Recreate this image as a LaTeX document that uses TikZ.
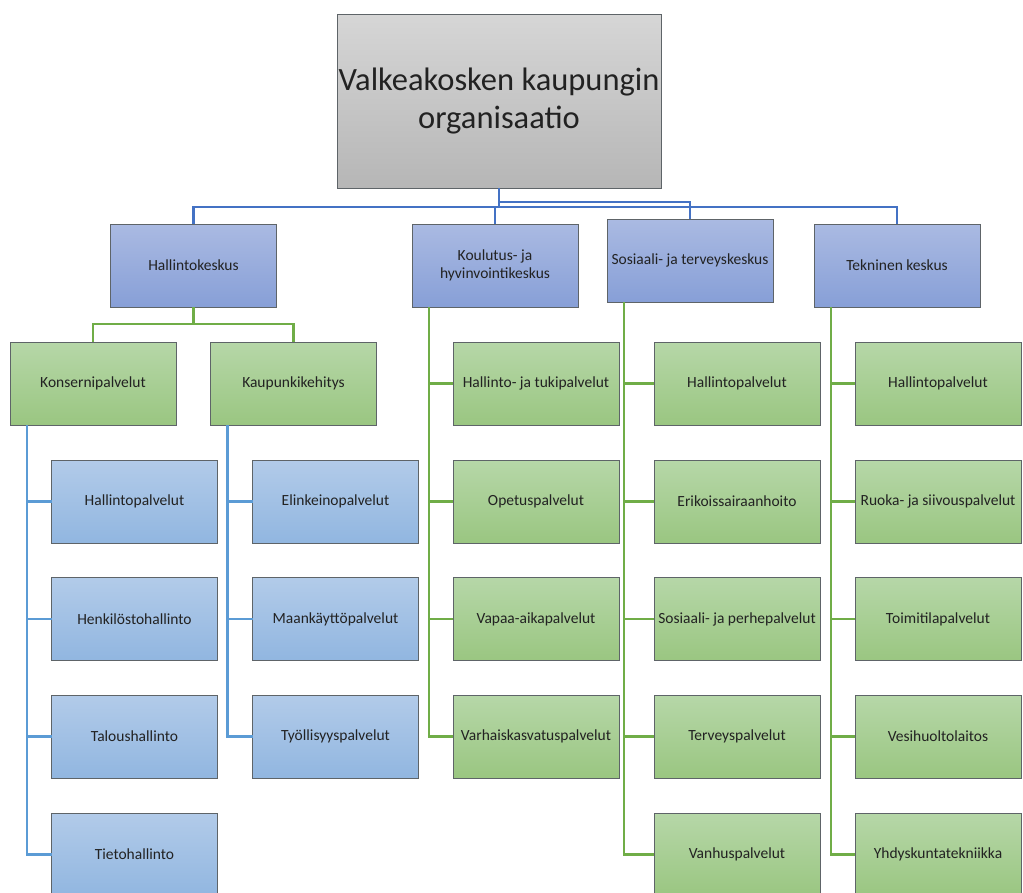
\documentclass[tikz,border=0pt]{standalone}
\usepackage{fontspec}
\setmainfont{Carlito}

\definecolor{headtop}{HTML}{D6D6D6}
\definecolor{headbot}{HTML}{B6B6B6}
\definecolor{depttop}{HTML}{AABAE2}
\definecolor{deptbot}{HTML}{879FD7}
\definecolor{greentop}{HTML}{B6D7A8}
\definecolor{greenbot}{HTML}{9AC681}
\definecolor{subtop}{HTML}{B2CBE9}
\definecolor{subbot}{HTML}{91B6E0}
\definecolor{boxline}{HTML}{5E6468}
\definecolor{textgray}{HTML}{222222}
\definecolor{linkblue}{HTML}{4472C4}
\definecolor{linkgreen}{HTML}{70AD47}
\definecolor{linksub}{HTML}{5B9BD5}

\begin{document}
\begin{tikzpicture}[x=1pt,y=-1pt,
  box/.style={draw=boxline,line width=0.7pt,minimum width=166pt,minimum height=83pt,
    inner sep=1pt,outer sep=0pt,align=center,text=textgray,font=\fontsize{15.5}{18}\selectfont},
  headbox/.style={box,top color=headtop,bottom color=headbot,minimum width=324pt,
    minimum height=174pt,inner sep=0pt,font=\fontsize{32.5}{38}\selectfont},
  deptbox/.style={box,top color=depttop,bottom color=deptbot},
  unitbox/.style={box,top color=greentop,bottom color=greenbot},
  subbox/.style={box,top color=subtop,bottom color=subbot},
  mainlink/.style={draw=linkblue,line width=2.6pt},
  greenlink/.style={draw=linkgreen,line width=2.4pt},
  sublink/.style={draw=linksub,line width=2.4pt}]

\useasboundingbox (0,0) rectangle (1023,892);
\clip (0,0) rectangle (1023,892);

% Top box
\node[headbox] (main) at (499,101) {Valkeakosken kaupungin\\organisaatio};

% Centres
\node[deptbox] (hk) at (193.5,265.5) {Hallintokeskus};
\node[deptbox] (kh) at (495,265.5) {Koulutus- ja\\hyvinvointikeskus};
\node[deptbox] (st) at (690,260.5) {Sosiaali- ja terveyskeskus};
\node[deptbox] (tk) at (897,265.5) {Tekninen keskus};

% Hallintokeskus units
\node[unitbox] (kp) at (93,383.5) {Konsernipalvelut};
\node[unitbox] (kk) at (293.5,383.5) {Kaupunkikehitys};

\node[subbox] (kp1) at (134.5,501.5) {Hallintopalvelut};
\node[subbox] (kp2) at (134.5,619) {Henkilöstohallinto};
\node[subbox] (kp3) at (134.5,736.5) {Taloushallinto};
\node[subbox] (kp4) at (134.5,854.5) {Tietohallinto};

\node[subbox] (kk1) at (335.5,501.5) {Elinkeinopalvelut};
\node[subbox] (kk2) at (335.5,619) {Maankäyttöpalvelut};
\node[subbox] (kk3) at (335.5,736.5) {Työllisyyspalvelut};

% Koulutus- ja hyvinvointikeskus units
\node[unitbox] (kh1) at (536,383.5) {Hallinto- ja tukipalvelut};
\node[unitbox] (kh2) at (536,501.5) {Opetuspalvelut};
\node[unitbox] (kh3) at (536,619) {Vapaa-aikapalvelut};
\node[unitbox] (kh4) at (536,736.5) {Varhaiskasvatuspalvelut};

% Sosiaali- ja terveyskeskus units
\node[unitbox] (st1) at (737,383.5) {Hallintopalvelut};
\node[unitbox] (st2) at (737,501.5) {Erikoissairaanhoito};
\node[unitbox] (st3) at (737,619) {Sosiaali- ja perhepalvelut};
\node[unitbox] (st4) at (737,736.5) {Terveyspalvelut};
\node[unitbox] (st5) at (737,854.5) {Vanhuspalvelut};

% Tekninen keskus units
\node[unitbox] (tk1) at (938,383.5) {Hallintopalvelut};
\node[unitbox] (tk2) at (938,501.5) {Ruoka- ja siivouspalvelut};
\node[unitbox] (tk3) at (938,619) {Toimitilapalvelut};
\node[unitbox] (tk4) at (938,736.5) {Vesihuoltolaitos};
\node[unitbox] (tk5) at (938,854.5) {Yhdyskuntatekniikka};

% Top connectors
\coordinate (topbus) at (499,207);
\coordinate (sidebus) at (499,202);
\draw[mainlink] (main.south) -- (topbus);
\draw[mainlink] (hk.north) |- (tk.north |- topbus) -- (tk.north);
\draw[mainlink] (kh.north) -- (kh.north |- topbus);
\draw[mainlink] (sidebus) -| (st.north);

% Hallintokeskus connectors
\coordinate (hkbus) at (193.5,324);
\draw[greenlink] (hk.south) -- (hkbus);
\draw[greenlink] (kp.north) |- (hkbus) -| (kk.north);

% Side buses
\coordinate (kpbus) at ([xshift=17pt]kp.south west);
\coordinate (kkbus) at ([xshift=17pt]kk.south west);
\coordinate (khbus) at ([xshift=17pt]kh.south west);
\coordinate (stbus) at ([xshift=17pt]st.south west);
\coordinate (tkbus) at ([xshift=17pt]tk.south west);

\draw[sublink] (kpbus) |- (kp1.west);
\draw[sublink] (kpbus) |- (kp2.west);
\draw[sublink] (kpbus) |- (kp3.west);
\draw[sublink] (kpbus) |- (kp4.west);

\draw[sublink] (kkbus) |- (kk1.west);
\draw[sublink] (kkbus) |- (kk2.west);
\draw[sublink] (kkbus) |- (kk3.west);

\draw[greenlink] (khbus) |- (kh1.west);
\draw[greenlink] (khbus) |- (kh2.west);
\draw[greenlink] (khbus) |- (kh3.west);
\draw[greenlink] (khbus) |- (kh4.west);

\draw[greenlink] (stbus) |- (st1.west);
\draw[greenlink] (stbus) |- (st2.west);
\draw[greenlink] (stbus) |- (st3.west);
\draw[greenlink] (stbus) |- (st4.west);
\draw[greenlink] (stbus) |- (st5.west);

\draw[greenlink] (tkbus) |- (tk1.west);
\draw[greenlink] (tkbus) |- (tk2.west);
\draw[greenlink] (tkbus) |- (tk3.west);
\draw[greenlink] (tkbus) |- (tk4.west);
\draw[greenlink] (tkbus) |- (tk5.west);

\end{tikzpicture}
\end{document}
